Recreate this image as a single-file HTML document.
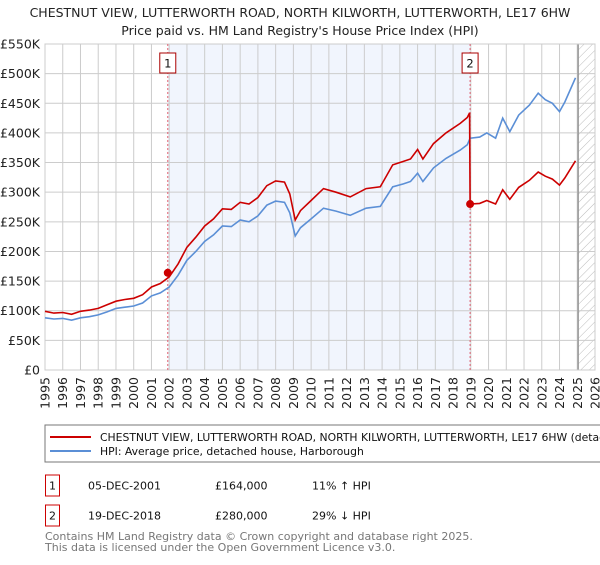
<!DOCTYPE html>
<html><head><meta charset="utf-8"><style>
body{margin:0;background:#fff;font-family:"Liberation Sans","DejaVu Sans",sans-serif;}
svg text{font-family:"DejaVu Sans","Liberation Sans",sans-serif;}
</style></head><body>
<svg id="c" width="600" height="560" viewBox="0 0 600 560" xmlns="http://www.w3.org/2000/svg">
<text x="300" y="17" font-size="12.5" text-anchor="middle" fill="#222">CHESTNUT VIEW, LUTTERWORTH ROAD, NORTH KILWORTH, LUTTERWORTH, LE17 6HW</text>
<text x="300" y="35" font-size="12.5" text-anchor="middle" fill="#222">Price paid vs. HM Land Registry's House Price Index (HPI)</text>
<g id="plot"></g>
<rect x="45" y="425" width="560" height="37" fill="#fff" stroke="#777"/>
<line x1="50" y1="437" x2="91" y2="437" stroke="#cc0000" stroke-width="2"/>
<text x="100" y="441" font-size="10.8" fill="#111">CHESTNUT VIEW, LUTTERWORTH ROAD, NORTH KILWORTH, LUTTERWORTH, LE17 6HW (detached house)</text>
<line x1="50" y1="451" x2="91" y2="451" stroke="#5b8fd6" stroke-width="2"/>
<text x="100" y="455" font-size="10.8" fill="#111">HPI: Average price, detached house, Harborough</text>
<rect x="45.5" y="475" width="14" height="21" fill="#fff" stroke="#cc0000"/>
<text x="52.5" y="489.5" font-size="11" text-anchor="middle" fill="#111">1</text>
<text x="88" y="489.5" font-size="11" fill="#111">05-DEC-2001</text>
<text x="215" y="489.5" font-size="11" fill="#111">£164,000</text>
<text x="312" y="489.5" font-size="11" fill="#111">11% ↑ HPI</text>
<rect x="45.5" y="505" width="14" height="21" fill="#fff" stroke="#cc0000"/>
<text x="52.5" y="519.5" font-size="11" text-anchor="middle" fill="#111">2</text>
<text x="88" y="519.5" font-size="11" fill="#111">19-DEC-2018</text>
<text x="215" y="519.5" font-size="11" fill="#111">£280,000</text>
<text x="312" y="519.5" font-size="11" fill="#111">29% ↓ HPI</text>
<text x="45" y="540" font-size="11" fill="#777">Contains HM Land Registry data © Crown copyright and database right 2025.</text>
<text x="45" y="551" font-size="11" fill="#777">This data is licensed under the Open Government Licence v3.0.</text>
</svg>
<script>
const hpiDates=[1995.0,1995.5,1996.0,1996.5,1997.0,1997.5,1998.0,1998.5,1999.0,1999.5,2000.0,2000.5,2001.0,2001.5,2002.0,2002.5,2003.0,2003.5,2004.0,2004.5,2005.0,2005.5,2006.0,2006.5,2007.0,2007.5,2008.0,2008.5,2008.8,2009.1,2009.4,2010.0,2010.7,2011.4,2012.2,2013.1,2013.9,2014.6,2015.2,2015.6,2016.0,2016.3,2016.9,2017.6,2018.4,2018.8,2018.96,2019.5,2019.9,2020.4,2020.8,2021.2,2021.7,2022.3,2022.8,2023.2,2023.6,2024.0,2024.3,2024.9];
const hpiValues=[88,86,87,84,88,90,93,98,104,106,108,113,125,130,140,160,185,200,217,228,243,242,253,250,260,278,285,283,265,226,240,255,273,268,261,273,276,309,314,318,332,318,341,357,371,380,391,393,400,391,425,402,430,447,467,456,450,436,452,493];
const priceDates=[1995.0,1995.5,1996.0,1996.5,1997.0,1997.5,1998.0,1998.5,1999.0,1999.5,2000.0,2000.5,2001.0,2001.5,2002.0,2002.5,2003.0,2003.5,2004.0,2004.5,2005.0,2005.5,2006.0,2006.5,2007.0,2007.5,2008.0,2008.5,2008.8,2009.1,2009.4,2010.0,2010.7,2011.4,2012.2,2013.1,2013.9,2014.6,2015.2,2015.6,2016.0,2016.3,2016.9,2017.6,2018.4,2018.8,2018.93,2018.96,2019.5,2019.9,2020.4,2020.8,2021.2,2021.7,2022.3,2022.8,2023.2,2023.6,2024.0,2024.3,2024.9];
const priceValues=[99,96,97,94,99,101,104,110,116,119,121,127,140,146,157,179,207,224,243,255,272,271,283,280,291,311,319,317,297,253,269,286,306,300,292,306,309,346,352,356,372,356,382,400,416,426,434,280,281,286,280,304,288,308,320,334,327,322,312,324,353];
const saleDates=[2001.92,2018.96];
const salePrices=[164,280];
const saleLabels=["1","2"];
const yTicks=[0,50,100,150,200,250,300,350,400,450,500,550];
const yTickLabels=["£0","£50K","£100K","£150K","£200K","£250K","£300K","£350K","£400K","£450K","£500K","£550K"];
const xYears=[];for(let y=1995;y<=2026;y++)xYears.push(y);

const X0=45,X1=595,Y0=370,Y1=44;
const xs=t=>X0+(t-1995)/(2026-1995)*(X1-X0);
const ys=v=>Y0-v/550*(Y0-Y1);
const NS="http://www.w3.org/2000/svg";
const g=document.getElementById('plot');
function mk(tag,attrs){const e=document.createElementNS(NS,tag);for(const k in attrs)e.setAttribute(k,attrs[k]);g.appendChild(e);return e;}
let e;
e=mk('rect',{x:xs(saleDates[0]),y:Y1,width:xs(saleDates[1])-xs(saleDates[0]),height:Y0-Y1,fill:'#f1f5fd'});


const defs=document.createElementNS(NS,'defs');defs.innerHTML='<pattern id="h" width="6" height="6" patternUnits="userSpaceOnUse" patternTransform="rotate(45)"><line x1="0" y1="0" x2="0" y2="6" stroke="#bbb" stroke-width="1"/></pattern>';g.appendChild(defs);
e=mk('rect',{x:xs(2025.05),y:Y1,width:X1-xs(2025.05),height:Y0-Y1,fill:'url(#h)'});


for(const y of xYears){
 e=mk('line',{x1:xs(y),x2:xs(y),y1:Y1,y2:Y0,stroke:'#cccccc','stroke-width':1});
 
 
 const tx=xs(y)+4.5,ty=377;
 e=mk('text',{x:tx,y:ty,'font-size':12.5,'text-anchor':'end',fill:'#222',transform:`rotate(-90 ${tx} ${ty})`});e.textContent=y;
 
 
}
yTicks.forEach((v,i)=>{
 e=mk('line',{x1:X0,x2:X1,y1:ys(v),y2:ys(v),stroke:'#cccccc','stroke-width':1});
 
 
 e=mk('text',{x:X0-5,y:ys(v)+4.5,'font-size':12.5,'text-anchor':'end',fill:'#222'});e.textContent=yTickLabels[i];
 
 
});
e=mk('line',{x1:xs(2025.05),x2:xs(2025.05),y1:Y1,y2:Y0,stroke:'#999','stroke-width':1.5});


e=mk('rect',{x:X0,y:Y1,width:X1-X0,height:Y0-Y1,fill:'none',stroke:'#cccccc'});


saleDates.forEach((d,i)=>{
 e=mk('line',{x1:xs(d),x2:xs(d),y1:Y1,y2:Y0,stroke:'#e06070','stroke-width':1,'stroke-dasharray':'2,2'});
 
 
});
const pts=(D,V)=>D.map((d,i)=>xs(d).toFixed(1)+','+ys(V[i]).toFixed(1)).join(' ');
e=mk('polyline',{points:pts(hpiDates,hpiValues),fill:'none',stroke:'#5b8fd6','stroke-width':1.6});


e=mk('polyline',{points:pts(priceDates,priceValues),fill:'none',stroke:'#cc0000','stroke-width':1.6});


saleDates.forEach((d,i)=>{
 e=mk('circle',{cx:xs(d),cy:ys(salePrices[i]),r:4,fill:'#cc0000'});
 
 
 e=mk('rect',{x:xs(d)-8,y:53,width:16,height:20,fill:'#fff',stroke:'#aa0000'});
 
 
 e=mk('text',{x:xs(d),y:67.5,'font-size':11.5,'text-anchor':'middle',fill:'#111'});e.textContent=saleLabels[i];
 
 
});
</script>
</body></html>
